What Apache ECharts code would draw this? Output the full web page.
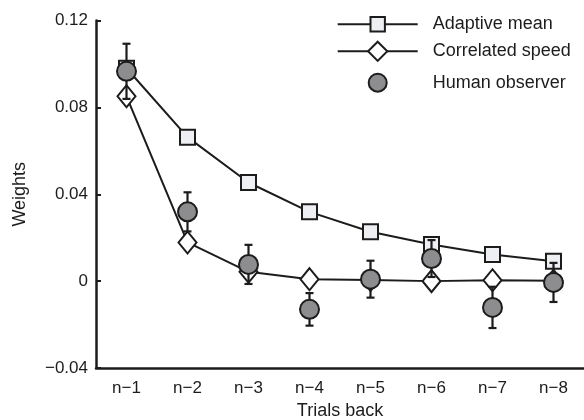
<!DOCTYPE html>
<html>
<head>
<meta charset="utf-8">
<script src="https://cdn.jsdelivr.net/npm/echarts@6/dist/echarts.min.js"></script>
<style>html,body{margin:0;padding:0;background:#fff}#c{width:584px;height:420px}</style>
</head>
<body>
<div id="c"></div>
<script>
var categories = ["n\u22121","n\u22122","n\u22123","n\u22124","n\u22125","n\u22126","n\u22127","n\u22128"];
var adaptiveMean = [0.098, 0.0663, 0.0454, 0.0319, 0.0227, 0.0169, 0.0123, 0.0092];
var correlatedSpeed = [0.0851, 0.0178, 0.0043, 0.0009, 0.0005, 0.0, 0.0004, 0.0002];
var humanObserver = [0.0966, 0.0319, 0.0077, -0.0130, 0.0009, 0.0104, -0.0121, -0.0006];
var humanError = [0.0127, 0.0090, 0.0090, 0.0075, 0.0085, 0.0085, 0.0095, 0.0090];
var yTicks = [-0.04, 0, 0.04, 0.08, 0.12];
var yTickLabels = ["\u22120.04", "0", "0.04", "0.08", "0.12"];

var ink = '#1c1c1c';
var font = 'Liberation Sans, Arial, Helvetica, sans-serif';

var errData = humanObserver.map(function (v, i) { return [i, v - humanError[i], v + humanError[i]]; });

var legendText = {fontSize: 18, color: ink, fontFamily: font, padding: [0, 0, 0, 10]};
function legendRow(name, left, top, h) {
  return {orient: 'vertical', left: left, top: top, itemWidth: 80, itemHeight: h,
    align: 'left', textStyle: legendText, data: [name]};
}

var chart = echarts.init(document.getElementById('c'), null, {renderer: 'canvas'});
chart.setOption({
  animation: false,
  backgroundColor: '#fff',
  textStyle: {fontFamily: font},
  grid: {left: 96, right: 0, top: 20.5, bottom: 52, containLabel: false, outerBoundsMode: 'none'},
  legend: [
    legendRow('Adaptive mean', 331.7, 10.3, 18),
    legendRow('Correlated speed', 331.7, 35.7, 24),
    legendRow('Human observer', 362.7, 67.7, 18)
  ],
  xAxis: {
    type: 'category', data: categories, boundaryGap: true,
    name: 'Trials back', nameLocation: 'middle', nameGap: 34,
    nameTextStyle: {fontSize: 18, color: ink, fontFamily: font},
    axisLine: {onZero: false, lineStyle: {color: ink, width: 2.5}},
    axisTick: {inside: true, alignWithLabel: true, length: 5, lineStyle: {color: ink, width: 2}},
    axisLabel: {fontSize: 17, color: ink, margin: 12, fontFamily: font},
    splitLine: {show: false}
  },
  yAxis: {
    type: 'value', min: yTicks[0], max: yTicks[yTicks.length - 1], interval: 0.04,
    name: 'Weights', nameLocation: 'middle', nameGap: 67,
    nameTextStyle: {fontSize: 18, color: ink, fontFamily: font},
    axisLine: {show: true, onZero: false, lineStyle: {color: ink, width: 2.5}},
    axisTick: {show: true, inside: true, length: 5, lineStyle: {color: ink, width: 2}},
    axisLabel: {fontSize: 17, color: ink, margin: 8, fontFamily: font,
      formatter: function (v) {
        for (var i = 0; i < yTicks.length; i++) { if (Math.abs(yTicks[i] - v) < 1e-9) return yTickLabels[i]; }
        return '';
      }},
    splitLine: {show: false}
  },
  series: [
    {
      name: 'Adaptive mean', type: 'line', data: adaptiveMean, z: 2,
      symbol: 'rect', symbolSize: 15,
      lineStyle: {color: ink, width: 2},
      itemStyle: {color: '#eeeff2', borderColor: ink, borderWidth: 2}
    },
    {
      name: 'Correlated speed', type: 'line', data: correlatedSpeed, z: 3,
      symbol: 'diamond', symbolSize: [18, 22],
      lineStyle: {color: ink, width: 2},
      itemStyle: {color: '#ffffff', borderColor: ink, borderWidth: 2}
    },
    {
      name: 'errbars', type: 'custom', data: errData, z: 4,
      renderItem: function (params, api) {
        var x = api.value(0);
        var lo = api.coord([x, api.value(1)]);
        var hi = api.coord([x, api.value(2)]);
        var cw = 4;
        var st = {stroke: ink, lineWidth: 2.2, fill: null};
        return {type: 'group', children: [
          {type: 'line', shape: {x1: lo[0], y1: lo[1], x2: hi[0], y2: hi[1]}, style: st},
          {type: 'line', shape: {x1: lo[0] - cw, y1: lo[1], x2: lo[0] + cw, y2: lo[1]}, style: st},
          {type: 'line', shape: {x1: hi[0] - cw, y1: hi[1], x2: hi[0] + cw, y2: hi[1]}, style: st}
        ]};
      },
      encode: {x: 0, y: [1, 2]}
    },
    {
      name: 'Human observer', type: 'scatter', data: humanObserver, z: 5,
      symbol: 'circle', symbolSize: 19,
      itemStyle: {color: '#8d8d90', borderColor: ink, borderWidth: 2, opacity: 1}
    }
  ]
});
</script>
</body>
</html>
